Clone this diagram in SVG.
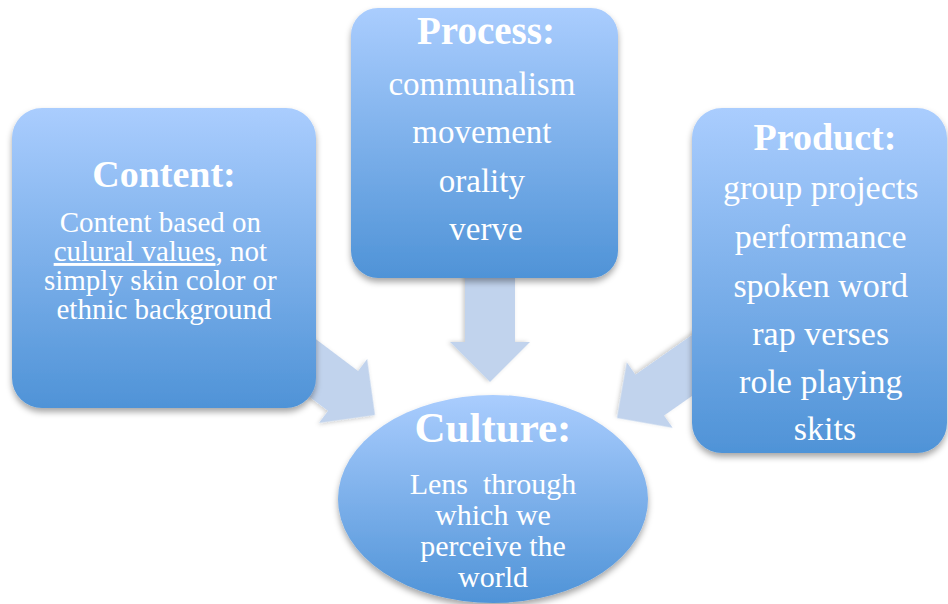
<svg xmlns="http://www.w3.org/2000/svg" width="948" height="604" viewBox="0 0 948 604">
<defs>
<linearGradient id="blue" x1="0" y1="0" x2="0" y2="1">
<stop offset="0" stop-color="#aacdfe"/>
<stop offset="1" stop-color="#4f93d7"/>
</linearGradient>
<filter id="sh" x="-10%" y="-10%" width="120%" height="125%">
<feDropShadow dx="0" dy="4" stdDeviation="3" flood-color="#000" flood-opacity="0.35"/>
</filter>
<filter id="ash" x="-20%" y="-20%" width="140%" height="140%">
<feDropShadow dx="0" dy="2" stdDeviation="2" flood-color="#000" flood-opacity="0.2"/>
</filter>
</defs>
<style>
.box{fill:url(#blue);filter:url(#sh)}
.arrow{fill:#c1d3ed;filter:url(#ash)}
.h{font-family:"Liberation Serif","DejaVu Serif",serif;font-weight:bold;fill:#fff;text-anchor:middle}
.t{font-family:"Liberation Serif","DejaVu Serif",serif;fill:#fff;text-anchor:middle}
</style>
<rect width="948" height="604" fill="#fff"/>
<g id="connectors">
<polygon class="arrow" transform="translate(375 415) rotate(37)" points="-140,-25 -40,-25 -40,-40 0,0 -40,40 -40,25 -140,25"/>
<polygon class="arrow" transform="translate(490 382) rotate(90)" points="-140,-25 -40,-25 -40,-40 0,0 -40,40 -40,25 -140,25"/>
<polygon class="arrow" transform="translate(617 418) rotate(145)" points="-140,-25 -40,-25 -40,-40 0,0 -40,40 -40,25 -140,25"/>
</g>
<g id="content">
<rect class="box" x="12" y="108" width="304" height="300" rx="30"/>
<text class="h" x="164" y="187" font-size="38">Content:</text>
<text class="t" font-size="29">
<tspan x="164" y="232">Content based on</tspan>
<tspan x="164" y="261"><tspan style="text-decoration:underline">culural values</tspan>, not</tspan>
<tspan x="164" y="290">simply skin color or</tspan>
<tspan x="164" y="319">ethnic background</tspan>
</text>
</g>
<g id="process">
<rect class="box" x="351" y="8" width="267" height="270" rx="27"/>
<text class="h" x="486" y="44" font-size="39">Process:</text>
<text class="t" font-size="33">
<tspan x="486" y="95">communalism</tspan>
<tspan x="486" y="143">movement</tspan>
<tspan x="486" y="192">orality</tspan>
<tspan x="486" y="240">verve</tspan>
</text>
</g>
<g id="product">
<rect class="box" x="692" y="108" width="255" height="345" rx="30"/>
<text class="h" x="825" y="150" font-size="38">Product:</text>
<text class="t" font-size="34">
<tspan x="825" y="199">group projects</tspan>
<tspan x="825" y="248">performance</tspan>
<tspan x="825" y="297">spoken word</tspan>
<tspan x="825" y="345">rap verses</tspan>
<tspan x="825" y="393">role playing</tspan>
<tspan x="825" y="440">skits</tspan>
</text>
</g>
<g id="culture">
<ellipse class="box" cx="493" cy="499" rx="155" ry="104"/>
<text class="h" x="493" y="442" font-size="43">Culture:</text>
<text class="t" font-size="30" xml:space="preserve"><tspan x="493" y="494">Lens  through</tspan><tspan x="493" y="525">which we</tspan><tspan x="493" y="556">perceive the</tspan><tspan x="493" y="587">world</tspan></text>
</g>
</svg>
